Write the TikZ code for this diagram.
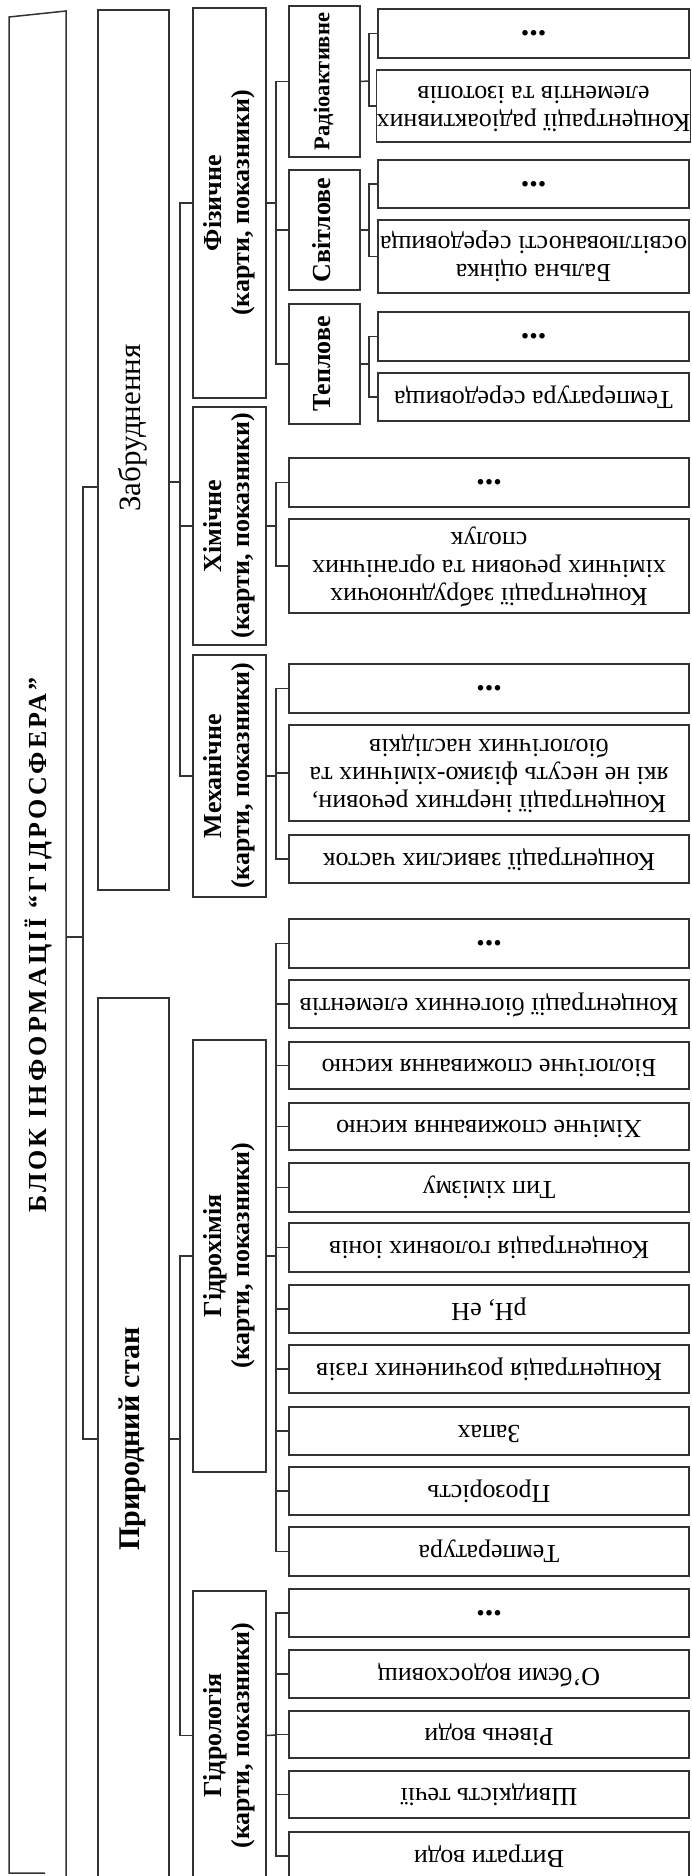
\documentclass[tikz,border=0pt]{standalone}
\usepackage{fontspec}
\usepackage{graphicx}
\setmainfont{Liberation Serif}
% text turned to read upwards / upside down, several centred lines
\newcommand\vtxt[1]{\rotatebox{90}{\begin{tabular}{@{}c@{}}#1\end{tabular}}}
\newcommand\utxt[1]{\rotatebox{180}{\begin{tabular}{@{}c@{}}#1\end{tabular}}}
% three heavy dots standing for further items
\newcommand\more{{\bfseries\fontsize{34}{34}\selectfont ...}}
% \bx{name}{style}{x1}{y1}{x2}{y2}{text}: box given by its corners
\newcommand\bx[7]{\node[#2, minimum width={#5-#3}, minimum height={#6-#4}] (#1) at ({(#3+#5)/2},{(#4+#6)/2}) {#7};}
\begin{document}
\begin{tikzpicture}[x=1pt, y=-1pt,
  ln/.style={draw=black!80, line width=1.5pt},
  frame/.style={ln, inner sep=0pt, outer sep=0pt},
  leaf/.style={frame, font=\fontsize{26}{28}\selectfont},
  group/.style={frame, font=\bfseries\fontsize{26}{28}\selectfont},
  kind/.style={frame, font=\bfseries\fontsize{26}{28}\selectfont},
  rad/.style={frame, font=\bfseries\fontsize{22.5}{24}\selectfont},
  zabst/.style={frame, font=\fontsize{31}{33}\selectfont},
  pryrst/.style={frame, font=\bfseries\fontsize{30}{32}\selectfont},
]
\useasboundingbox (0,0) rectangle (691,1876);
\fill[white] (0,0) rectangle (691,1876);

% ---------- title block ----------
\draw[ln] (45,1873) -- (9,1873) -- (9,17) -- (66,11) -- (66,1880);
\node[font=\bfseries\fontsize{26}{28}\selectfont\addfontfeature{LetterSpace=12}, rotate=90]
  (title) at (38,945) {БЛОК ІНФОРМАЦІЇ “ГІДРОСФЕРА”};
\coordinate (tconn) at (66,937);
\coordinate (b1) at (83,937);

% ---------- first level ----------
\bx{zab}{zabst}{98}{10}{169}{890}{}
\node[font=\fontsize{31}{33}\selectfont, rotate=90] (zabtxt) at (133,428) {Забруднення};
\bx{pryr}{pryrst}{98}{998}{169}{1880}{\vtxt{Природний стан}}

\coordinate (zabin) at (98,487);
\draw[ln] (tconn) -- (b1);
\draw[ln] (zabin) -| (b1) |- (pryr.west);

% ---------- second level ----------
\bx{fiz}{group}{193}{8}{266}{398}{\vtxt{Фізичне\\(карти, показники)}}
\bx{chem}{group}{193}{407}{266}{645}{\vtxt{Хімічне\\(карти, показники)}}
\bx{mech}{group}{193}{655}{266}{897}{\vtxt{Механічне\\(карти, показники)}}
\bx{hchem}{group}{193}{1040}{266}{1472}{\vtxt{Гідрохімія\\(карти, показники)}}
\bx{hlog}{group}{193}{1591}{266}{1880}{\vtxt{Гідрологія\\(карти, показники)}}

\coordinate (zabout) at (169,482);
\coordinate (b2a) at (180,482);
\draw[ln] (zabout) -- (b2a);
\draw[ln] (fiz.west) -| (b2a) |- (mech.west);
\draw[ln] (b2a |- chem.west) -- (chem.west);

\coordinate (pryrout) at (169,1439);
\coordinate (b2b) at (180,1439);
\draw[ln] (pryrout) -- (b2b);
\draw[ln] (hchem.west) -| (b2b) |- (hlog.west);

% ---------- physical pollution ----------
\bx{rad}{rad}{289}{6}{360}{157}{\vtxt{Радіоактивне}}
\bx{svit}{kind}{289}{170}{360}{290}{\vtxt{Світлове}}
\bx{tepl}{kind}{289}{304}{360}{424}{\vtxt{Теплове}}
\coordinate (b3f) at (276,203);
\draw[ln] (fiz.east) -- (b3f);
\draw[ln] (rad.west) -| (b3f) |- (tepl.west);
\draw[ln] (b3f |- svit.west) -- (svit.west);

\bx{rdots}{leaf}{378}{9}{689}{58}{\more}
\bx{rconc}{leaf}{378}{70}{689}{142}{\utxt{Концентрації радіоактивних\\елементів та ізотопів}}
\bx{sdots}{leaf}{378}{160}{689}{208}{\more}
\bx{sconc}{leaf}{378}{220}{689}{293}{\utxt{Бальна оцінка\\освітлюваності середовища}}
\bx{tdots}{leaf}{378}{312}{689}{361}{\more}
\bx{ttemp}{leaf}{378}{373}{689}{421}{\utxt{Температура середовища}}

\coordinate (b4r) at (369,81);
\draw[ln] (rad.east) -- (b4r);
\draw[ln] (rdots.west) -| (b4r) |- (rconc.west);
\coordinate (b4s) at (369,230);
\draw[ln] (svit.east) -- (b4s);
\draw[ln] (sdots.west) -| (b4s) |- (sconc.west);
\coordinate (b4t) at (369,364);
\draw[ln] (tepl.east) -- (b4t);
\draw[ln] (tdots.west) -| (b4t) |- (ttemp.west);

% ---------- chemical pollution ----------
\bx{cdots}{leaf}{289}{458}{689}{507}{\more}
\bx{cconc}{leaf}{289}{519}{689}{613}{\utxt{Концентрації забруднюючих\\хімічних речовин та органічних\\сполук}}
\coordinate (b3c) at (276,526);
\draw[ln] (chem.east) -- (b3c);
\draw[ln] (cdots.west) -| (b3c) |- (cconc.west);

% ---------- mechanical pollution ----------
\bx{mdots}{leaf}{289}{664}{689}{713}{\more}
\bx{minert}{leaf}{289}{725}{689}{821}{\utxt{Концентрації інертних речовин,\\які не несуть фізико-хімічних та\\біологічних наслідків}}
\bx{mzav}{leaf}{289}{835}{689}{883}{\utxt{Концентрації завислих часток}}
\coordinate (b3m) at (276,776);
\draw[ln] (mech.east) -- (b3m);
\draw[ln] (mdots.west) -| (b3m) |- (mzav.west);
\draw[ln] (b3m |- minert.west) -- (minert.west);

% ---------- hydrochemistry ----------
\bx{h1}{leaf}{289}{919}{689}{968}{\more}
\bx{h2}{leaf}{289}{980}{689}{1028}{\utxt{Концентрації біогенних елементів}}
\bx{h3}{leaf}{289}{1042}{689}{1089}{\utxt{Біологічне споживання кисню}}
\bx{h4}{leaf}{289}{1103}{689}{1150}{\utxt{Хімічне споживання кисню}}
\bx{h5}{leaf}{289}{1163}{689}{1212}{\utxt{Тип хімізму}}
\bx{h6}{leaf}{289}{1223}{689}{1272}{\utxt{Концентрація головних іонів}}
\bx{h7}{leaf}{289}{1285}{689}{1333}{\utxt{pH, eH}}
\bx{h8}{leaf}{289}{1345}{689}{1393}{\utxt{Концентрація розчинених газів}}
\bx{h9}{leaf}{289}{1407}{689}{1455}{\utxt{Запах}}
\bx{h10}{leaf}{289}{1467}{689}{1515}{\utxt{Прозорість}}
\bx{h11}{leaf}{289}{1527}{689}{1576}{\utxt{Температура}}
\coordinate (b3h) at (276,1256);
\draw[ln] (hchem.east) -- (b3h);
\draw[ln] (h1.west) -| (b3h) |- (h11.west);
\foreach \n in {h2,h3,h4,h5,h6,h7,h8,h9,h10}
  \draw[ln] (b3h |- \n.west) -- (\n.west);

% ---------- hydrology ----------
\bx{g1}{leaf}{289}{1589}{689}{1637}{\more}
\bx{g2}{leaf}{289}{1650}{689}{1698}{\utxt{О’бєми водосховищ}}
\bx{g3}{leaf}{289}{1711}{689}{1758}{\utxt{Рівень води}}
\bx{g4}{leaf}{289}{1771}{689}{1818}{\utxt{Швидкість течії}}
\bx{g5}{leaf}{289}{1832}{689}{1880}{\utxt{Витрати води}}
\coordinate (b3g) at (276,1735);
\draw[ln] (hlog.east) -- (b3g);
\draw[ln] (g1.west) -| (b3g) |- (g5.west);
\foreach \n in {g2,g3,g4}
  \draw[ln] (b3g |- \n.west) -- (\n.west);
\end{tikzpicture}
\end{document}
